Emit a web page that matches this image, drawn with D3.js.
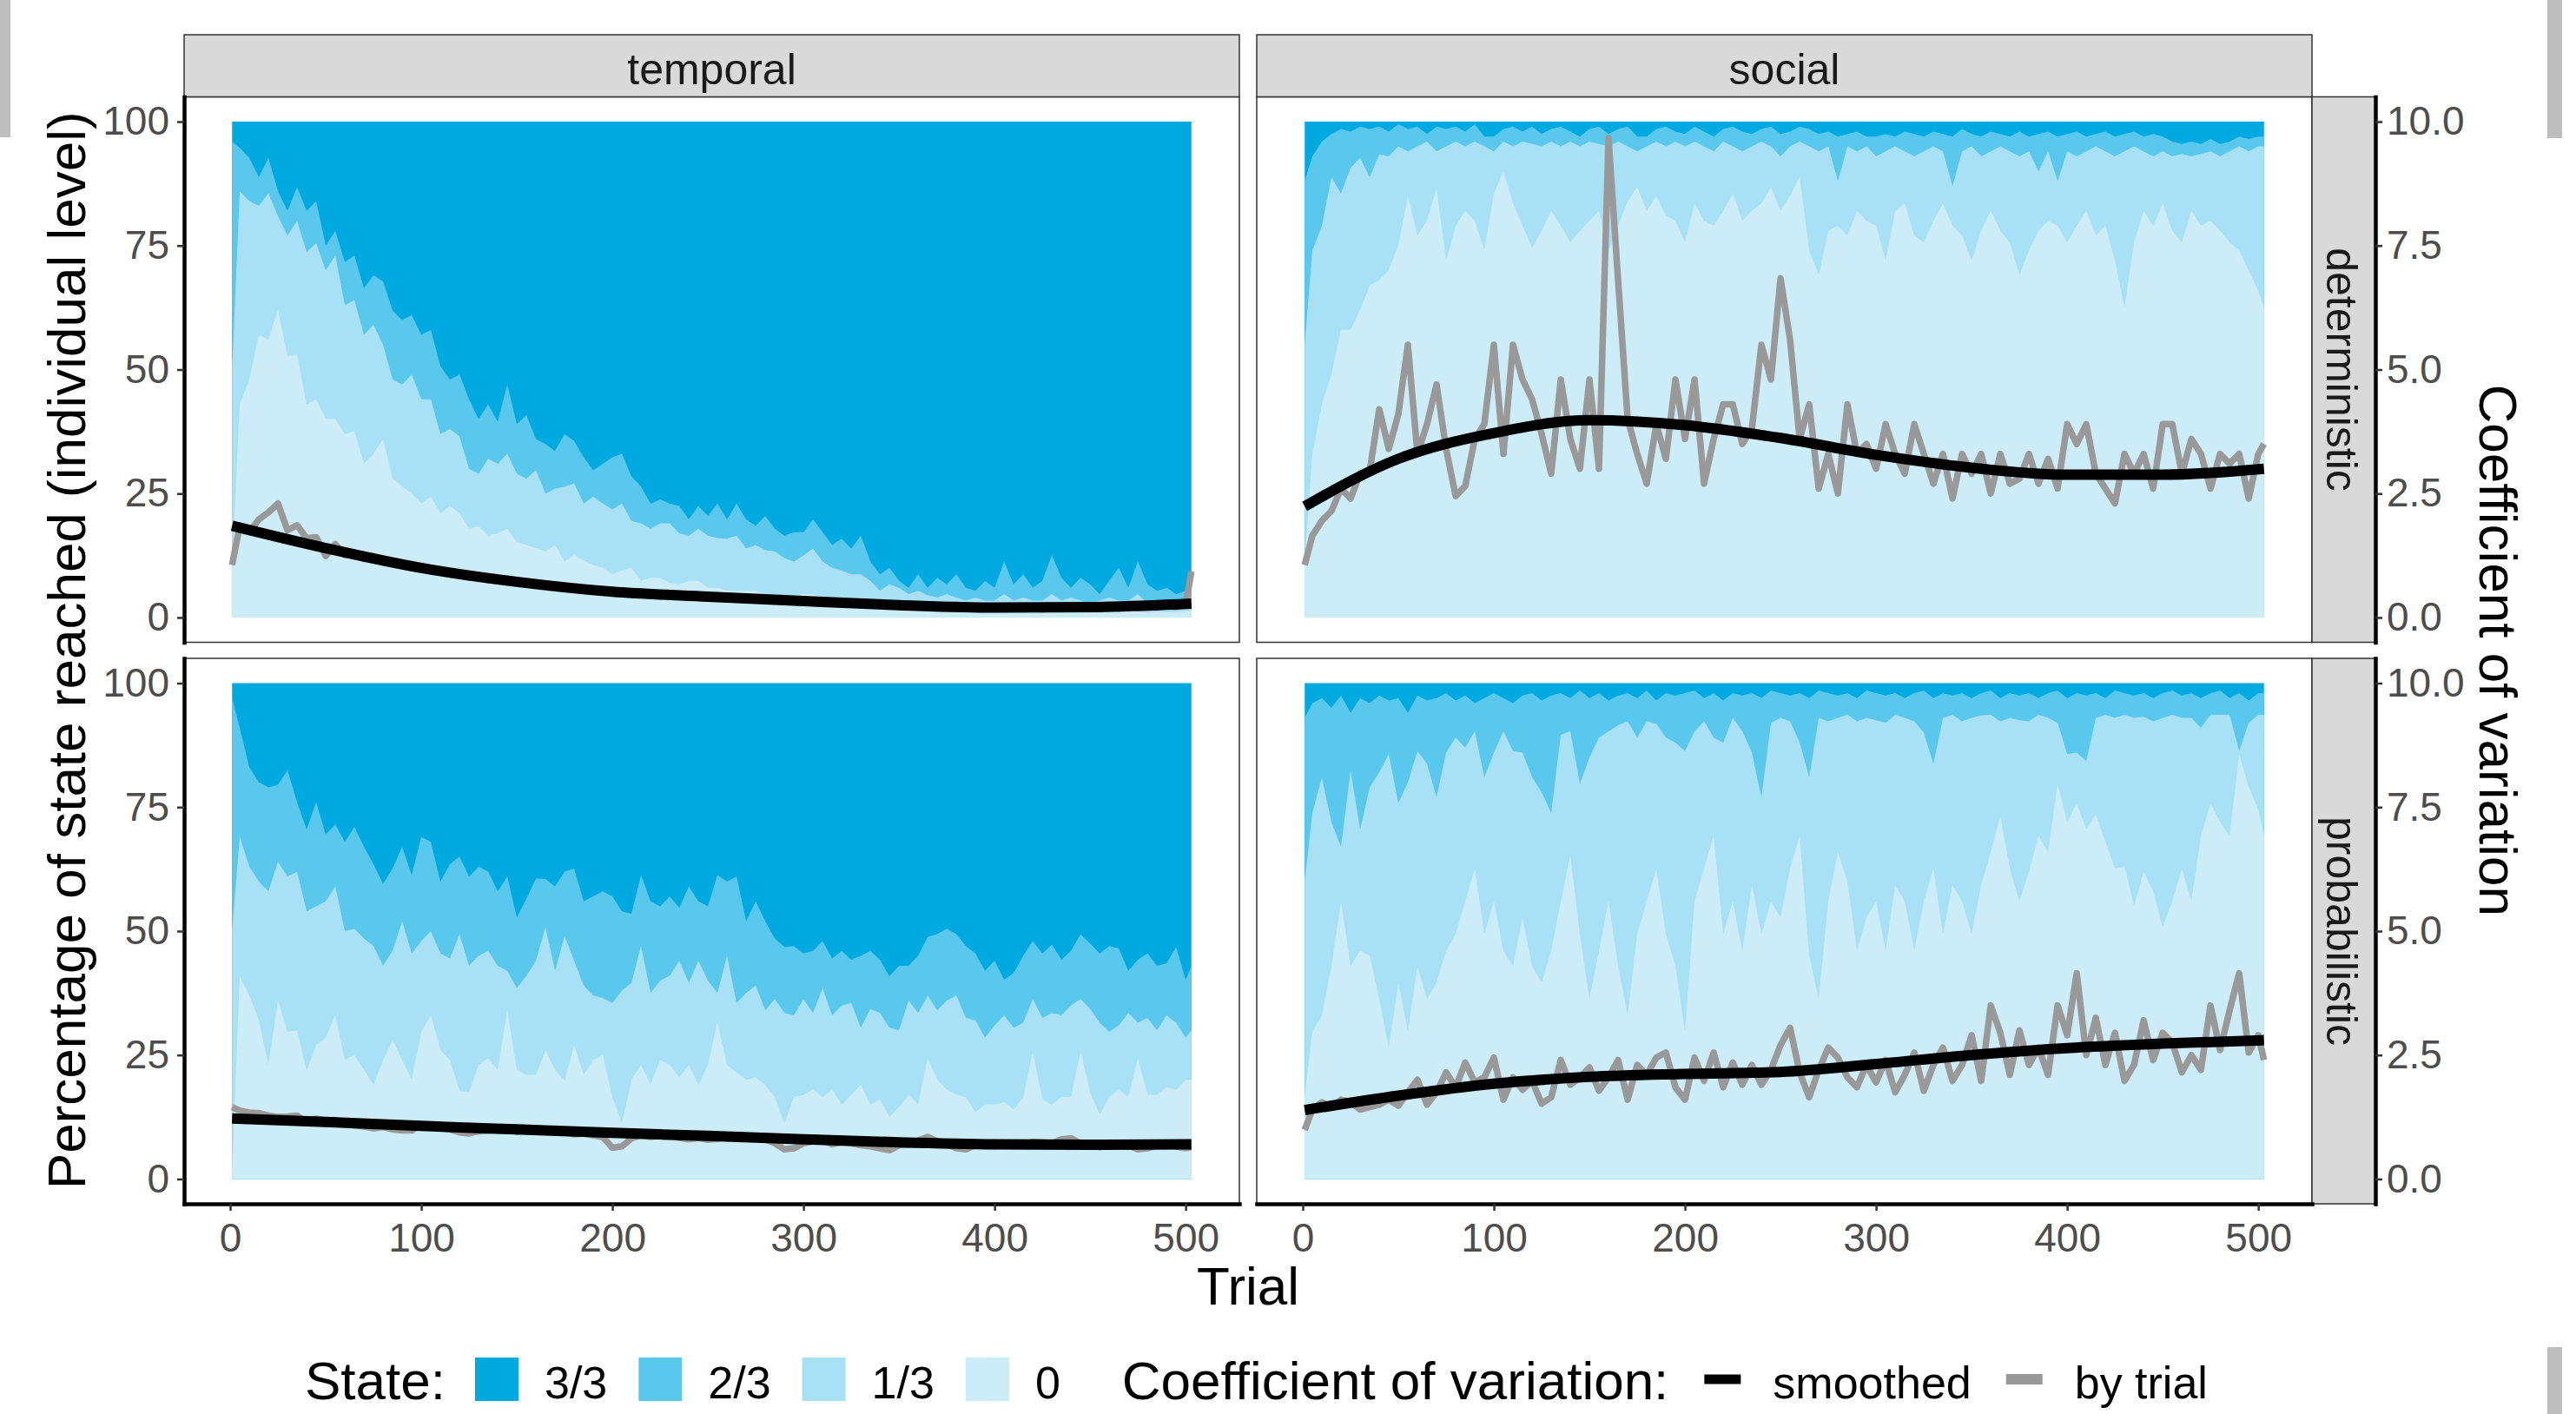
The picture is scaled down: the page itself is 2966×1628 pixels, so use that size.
<!DOCTYPE html>
<html>
<head>
<meta charset="utf-8">
<script src="https://cdn.jsdelivr.net/npm/d3@7"></script>
<style>
html,body{margin:0;padding:0;background:#fff;}
svg{display:block;}
text{font-family:"Liberation Sans", Arial, Helvetica, sans-serif;}
</style>
</head>
<body>
<svg id="chart" width="2966" height="1628"></svg>
<script>
// ---------- categories / ticks ----------
const columns = ["temporal", "social"];
const rows = ["deterministic", "probabilistic"];
const stateLabels = ["3/3", "2/3", "1/3", "0"];
const stateColors = ["#00A9E0", "#5AC7EC", "#A8E1F5", "#CCEDF8"];
const cvLabels = ["smoothed", "by trial"];
const yTicks = [0, 25, 50, 75, 100];
const cvTicks = [0, 2.5, 5, 7.5, 10];
const xTicks = [0, 100, 200, 300, 400, 500];

const trials = [1,5,10,15,20,25,30,35,40,45,
 50,55,60,65,70,75,80,85,90,95,
 100,105,110,115,120,125,130,135,140,145,
 150,155,160,165,170,175,180,185,190,195,
 200,205,210,215,220,225,230,235,240,245,
 250,255,260,265,270,275,280,285,290,295,
 300,305,310,315,320,325,330,335,340,345,
 350,355,360,365,370,375,380,385,390,395,
 400,405,410,415,420,425,430,435,440,445,
 450,455,460,465,470,475,480,485,490,495,
 500,503];
const smoothTrials = [1,50,100,150,200,250,300,350,400,450,503];

// ---------- temporal / deterministic ----------
// cumulative % of individuals at state <= 0, <= 1/3, <= 2/3
const tempDet_upTo0 = [10,43,48,57,56,62,52.7,53,43,44,
 40,40,37,37.6,31,33,36,28,26.4,25,
 23,24.4,21,22.5,21,17.9,18.4,16.5,17,17.9,
 15.2,14.6,14,13.3,14.6,11.3,12.6,11.5,10.6,10,
 8.7,9.5,10,7.4,8,8,7,6.7,7.4,7.4,
 6,6,5.4,5.4,5.4,5.4,4.7,4.7,4,4,
 4.7,4.7,3.4,3.4,2.8,2.8,2.1,2.1,1.8,1.5,
 1.8,1.4,1.6,1.2,1.5,1.1,1.4,1.2,1.0,1.3,
 1.1,1.5,1.2,1.0,1.3,1.1,1.4,1.0,1.2,1.1,
 0.9,1.2,1.0,1.3,1.1,1.4,0.9,1.2,1.0,1.1,
 1.2,1.5];
const tempDet_upTo1of3 = [50,86,84,83,85.5,81,77,80,73.7,75.5,
 70,73,63,64,57,59,55,48,47,49,
 44,44,37,38,36.5,30,29,32,31,33,
 29,28,29.7,25,26,26.4,27,23,24.4,23,
 21.8,23,19.5,19,17.9,19,19,17,16.5,17.9,
 16.5,16,15.9,16.5,13.9,14.6,13.6,13.3,12,11.3,
 12.5,13.9,11.3,10,9.5,8.7,8.7,7.4,5.4,6.7,
 6,4.7,5.4,4.5,4,4.7,4,3.4,4,3.4,
 3.4,4.7,3.4,4,3.4,3.4,4.7,3.4,4,3.4,
 2.8,3.4,4,3.4,3.4,4.7,2.8,3.4,2.8,3.4,
 3.4,4];
const tempDet_upTo2of3 = [96,94.7,92.7,88.8,92.7,86,82,86.8,82,84,
 75,78,71.7,73,66.4,69,67.8,61.9,60,61,
 57,58,50.7,48,49,44,40,43,39.5,47,
 39,40.8,36,35,33.6,37,35.6,32.3,29.7,31,
 32.3,33,28.4,26.4,23,23.8,23,22.5,19.8,22.5,
 20.5,23,19.8,23,19.8,18.5,20.5,17.9,16.5,17.2,
 17.2,19.8,17.2,14.6,15.9,13.9,16.5,11.3,8.7,10,
 7.4,6,8.7,6,8,6.7,8.7,6,5.4,7.4,
 6,11.3,6.7,8.7,6,7.4,12.6,8,6,8,
 6.7,4.7,7.4,10,6,11.3,6.7,5.4,6,4.7,
 5.4,6];
const tempDet_cv = [1.06,1.85,1.72,1.98,2.12,2.3,1.76,1.86,1.6,1.62,
 1.24,1.48,1.26,1.3,1.18,1.24,1.16,1.12,1.06,1.05,
 0.98,0.94,0.92,0.87,0.86,0.8,0.82,0.75,0.76,0.71,
 0.72,0.67,0.68,0.63,0.64,0.6,0.6,0.57,0.58,0.53,
 0.55,0.5,0.52,0.48,0.5,0.45,0.47,0.44,0.46,0.42,
 0.44,0.4,0.42,0.38,0.4,0.36,0.38,0.34,0.36,0.32,
 0.35,0.31,0.33,0.29,0.3,0.27,0.29,0.25,0.27,0.24,
 0.26,0.22,0.24,0.21,0.23,0.19,0.21,0.18,0.21,0.18,
 0.2,0.17,0.2,0.17,0.19,0.16,0.2,0.17,0.19,0.17,
 0.21,0.18,0.2,0.18,0.22,0.19,0.21,0.2,0.23,0.21,
 0.25,0.93];
const tempDet_cvSmooth = [1.85,1.40,1.0,0.72,0.52,0.42,0.33,0.25,0.20,0.21,0.28];

// ---------- social / deterministic ----------
const socDet_upTo0 = [11,33,43,49,58,58,62,67,68,70,
 75,85,77,80,86.5,72,79,82,80,74,
 85.5,90,83.5,79,74.5,78,82,79,75.6,78,
 80,82,74,79,84,86.8,82,85,81,80,
 75.6,83.5,80,79,82,85.5,80,82,83.5,86.8,
 82,85,88.8,74,69,78,79,77,82,80,
 79,72,82,83.5,77,75.6,80,83.5,79,77,
 72,78,82,78,75.6,69,74,78,80,79,
 75.6,79,82,77,79,72,62.5,75.6,82,79,
 83.5,78,75.6,82,79,80,78,75.6,74,70,
 65.8,62.5];
const socDet_upTo1of3 = [55,74,79,88.8,85.5,90.7,92.7,88.8,93.4,93,
 95,94,95,96,94,95,96,95,96,95,
 94,96,95,96,95.5,95,96,95,96,95,
 96,95.5,95,96,95,94,95,96,95,96,
 95,96,95,94,96,95,94,95,96,95,
 93,95,96,95,94,95,88,95,94,95,
 93,94,95,94,93,94,95,94,87,94,
 95,93,94,95,94,93,94,90,94,88,
 94,93,94,95,94,93,94,95,94,93,
 94,93,93.5,93,93.5,94,93,94,95,94,
 95,95];
const socDet_upTo2of3 = [88,93,96,97.5,98.5,98,99,98.5,99,98,
 99.5,98.5,99,97.5,99,98.5,99,98,99.5,97,
 97,98.5,99,98,99,97.5,98.5,99,98,97,
 98.5,99,97.5,98.5,99,97,97,98.5,99,98,
 97.5,99,98,97,98.5,99,98,97.5,98.5,99,
 97.5,98,99,98.5,97.5,98,97,97.5,98,97,
 97,97.5,97,98,97.5,97,98,97.5,97,98.5,
 97.5,97,98,97.5,97,98,97,97.5,98,97,
 97.5,98,97,97.5,98,97,97.5,98,97,97.5,
 97,96,95.5,96,95.5,96.5,95.5,96,97,96.5,
 97,97];
const socDet_cv = [1.06,1.65,1.95,2.15,2.6,2.4,2.9,2.95,4.2,3.4,
 4.1,5.5,3.3,3.9,4.7,3.4,2.45,2.65,3.6,3.9,
 5.5,3.3,5.5,4.8,4.4,3.7,2.9,4.8,3.6,3.0,
 4.8,3.0,9.67,6.8,4.0,3.3,2.7,3.9,3.2,4.8,
 3.6,4.8,2.7,3.6,4.3,4.3,3.5,3.8,5.5,4.8,
 6.84,5.6,3.6,4.3,2.6,3.3,2.5,4.3,3.3,3.5,
 3.0,3.9,3.3,2.9,3.9,3.3,2.7,3.3,2.4,3.3,
 2.9,3.3,2.5,3.3,2.7,2.8,3.3,2.7,3.2,2.6,
 3.9,3.5,3.9,2.9,2.6,2.3,3.3,2.9,3.3,2.6,
 3.9,3.9,2.9,3.6,3.3,2.6,3.3,3.1,3.3,2.4,
 3.3,3.5];
const socDet_cvSmooth = [2.24,3.2,3.72,3.98,3.88,3.62,3.28,3.02,2.88,2.88,3.0];

// ---------- temporal / probabilistic ----------
const tempProb_upTo0 = [2,41,37,32,23,36,29.7,30,21.8,27,
 28.4,33,24,25,22,19,24,28,24,20,
 29.7,33,26,24,17.8,17.5,23,24.4,22,34,
 22,21,21,26,22,19.8,27,21,24,25,
 16.5,11.2,20,23,19,24,23,20.5,23,19,
 23,31.7,23,21.5,20,20.5,19,16.5,11.2,16.5,
 17,18,16.5,18,15,17,19,15,16,12.5,
 14.5,17,15,24.4,20,18,17,16.5,13.5,15,
 15,15.5,14,16.5,25.7,16,15,16.5,16.5,25.7,
 17.5,13,16.5,18,16.5,24.4,17,17,18.5,18,
 20,20];
const tempProb_upTo1of3 = [50,69,63,60,58,64,61,62,54,55,
 56,59,50,50.5,48.5,47,43,46,52,45.5,
 48,50,45.5,44.5,49.4,43,45,46,43,42,
 38.5,41,44,50.8,42,49,44,39,37,36.5,
 35.5,38,39.6,47,37.5,40,41,44,39.6,44,
 40,37.5,45,35.5,37.5,39,34,36.3,33.5,33,
 36.3,33.5,38.5,33,35,35.5,30.5,34.3,33.5,30.5,
 30,36,33.5,37,34,36,37,32.5,32,28.5,
 31,33,30.5,31.5,36.3,32.5,33.5,33,35,36.3,
 34.3,31.5,29.7,31,33.5,31.5,32.5,30,33,31.5,
 28.5,30];
const tempProb_upTo2of3 = [97,91,83,80,79,79.5,82.4,76,70.5,76,
 69.5,71.5,68,71,67,63.5,59.5,62.6,67,61.3,
 69,68,60,63.5,65,61,63,62,58,61,
 52.7,56.5,60.6,60.5,59,62,62.6,56,57,58,
 57,54,53.5,61.3,56,55,57,54.7,59,56,
 55,61.3,60,61,52,56,52,48.5,46.8,47,
 45.5,46,48,44.5,46,44.2,45,46,44.2,40.9,
 43,43,45,48.8,49.4,50.5,49.4,47,45.5,42,
 44,40.2,41.5,45,48,45.5,47.3,44.2,46,49.4,
 47.5,45.5,47,46.5,42,44.2,45.5,43,43.5,46.8,
 40.2,43];
const tempProb_cv = [1.45,1.38,1.34,1.33,1.28,1.25,1.26,1.28,1.15,1.22,
 1.18,1.19,1.11,1.08,1.06,1.02,1.05,1.0,0.98,0.98,
 1.1,1.1,1.03,1.0,0.94,0.92,0.96,0.98,1.02,1.02,
 0.95,0.98,0.99,1.0,1.0,0.95,0.9,0.92,0.88,0.85,
 0.63,0.66,0.82,0.88,0.85,0.87,0.88,0.83,0.8,0.83,
 0.79,0.81,0.85,0.88,0.83,0.85,0.8,0.72,0.6,0.62,
 0.72,0.76,0.78,0.7,0.74,0.72,0.68,0.66,0.62,0.58,
 0.68,0.7,0.78,0.85,0.76,0.7,0.62,0.6,0.68,0.72,
 0.66,0.7,0.72,0.68,0.75,0.74,0.72,0.8,0.82,0.72,
 0.68,0.64,0.7,0.72,0.68,0.6,0.62,0.68,0.72,0.66,
 0.62,0.64];
const tempProb_cvSmooth = [1.22,1.15,1.07,1.0,0.93,0.87,0.8,0.74,0.70,0.69,0.70];

// ---------- social / probabilistic ----------
const socProb_upTo0 = [16.5,29.7,33,42.9,56,42.9,46,45,36.3,26.4,
 39.6,29.7,42.9,36.3,39.6,46,49.4,56,62.6,49.4,
 56,46,42.9,52.7,42.9,39.6,46,56,65.3,49.4,
 36.3,46,56,42.9,33,49.4,56,62.6,49.4,42.9,
 29.7,56,62.6,69.2,49.4,56,46,59.3,49.4,56,
 52.7,62.6,69.2,45,36.3,56,65.9,60,46,52.7,
 56,46,59.3,56,46,56,62.6,49.4,59.3,56,
 49.4,59.3,65.9,73.2,62.6,56,62,69.2,65.9,79.7,
 72,75.8,70.5,73.5,68,62.6,63,55,62,58,
 50.8,56,62.6,56,69.2,75.8,72,69.2,85.7,79,
 74.5,69.2];
const socProb_upTo1of3 = [60,73.8,81,72,67,82.4,70.5,79,82,85.7,
 75.8,80,86.3,83.7,77,86,89,87,90.3,81,
 86,90.3,86.3,86,81,78,73.8,89.6,90.3,79.7,
 85,89,90.3,91.5,92.3,89,92.3,91.8,89,88,
 86.3,90.3,92.3,89,88,93,90.3,86,77,92,
 93,92.3,88,81,93,92.3,93,93.6,92.3,93,
 92.5,92,93.6,93,92.3,90,83.7,93,93.6,92.3,
 93,93.5,93.6,92.3,93,92.5,92.3,93.6,93,92,
 85.7,86,84.3,93,93.6,93,93.6,93,93.2,92.3,
 93,93.6,93,93,91,93.6,93.6,93.6,86.3,92,
 93.6,93.6];
const socProb_upTo2of3 = [93,96,97,95,97.5,94,97,96,97.5,96.5,
 97,94,97.5,96.5,97,98,96.5,97.5,96,97,
 98,97,96,97.5,98,96.5,97.5,98,97,98.5,
 97,98,96.5,97.5,98,97,98.5,96.5,98,97.5,
 98,98.5,97,98,96.5,98,97.5,98,97,98.5,
 98,97.5,98,97,98.5,98,97.5,98,97,98.5,
 98,97.5,98,97,98,98.5,97,98,97.5,98,
 97,98,98.5,97,98,97.5,98,97,98,98.5,
 97,98,97.5,98,97,98.5,98,97.5,98,97,
 98,98.5,97.5,98,97,98,98.5,97,98,96.5,
 98,98];
const socProb_cv = [0.99,1.4,1.55,1.45,1.6,1.55,1.4,1.45,1.5,1.6,
 1.48,1.75,2.0,1.5,1.75,2.15,1.85,2.35,1.95,2.05,
 2.45,1.6,2.05,1.8,1.98,1.52,1.65,2.4,1.9,2.05,
 2.25,1.78,2.05,2.4,1.6,2.3,2.1,2.45,2.55,1.85,
 1.6,2.45,1.98,2.55,1.85,2.35,1.9,2.3,1.9,2.2,
 2.7,3.05,2.15,1.65,2.2,2.65,2.45,2.05,1.85,2.3,
 1.95,2.4,1.75,2.1,2.55,1.78,2.3,2.65,1.98,2.3,
 2.9,1.98,3.5,2.95,2.1,3.0,2.3,2.65,2.1,3.5,
 2.9,4.15,2.5,3.25,2.3,2.95,1.98,2.3,3.2,2.4,
 2.95,2.75,2.15,2.5,2.2,3.5,2.6,3.4,4.15,2.55,
 2.9,2.4];
const socProb_cvSmooth = [1.39,1.68,1.92,2.06,2.12,2.16,2.32,2.5,2.64,2.73,2.8];

const panels = [
  {col:0, row:0, upTo0:tempDet_upTo0, upTo1:tempDet_upTo1of3, upTo2:tempDet_upTo2of3, cv:tempDet_cv, smooth:tempDet_cvSmooth},
  {col:1, row:0, upTo0:socDet_upTo0, upTo1:socDet_upTo1of3, upTo2:socDet_upTo2of3, cv:socDet_cv, smooth:socDet_cvSmooth},
  {col:0, row:1, upTo0:tempProb_upTo0, upTo1:tempProb_upTo1of3, upTo2:tempProb_upTo2of3, cv:tempProb_cv, smooth:tempProb_cvSmooth},
  {col:1, row:1, upTo0:socProb_upTo0, upTo1:socProb_upTo1of3, upTo2:socProb_upTo2of3, cv:socProb_cv, smooth:socProb_cvSmooth}
];

// ---------- layout ----------
const W = 2966, H = 1628;
const FONT = '"Liberation Sans", Arial, Helvetica, sans-serif';
const panelW = 1215, panelH = 628;
const colX = [212, 1447];
const rowY = [111.5, 758];
const stripTop = 40, stripH = 71.5;
const rStripX = 2662, rStripW = 73;
const rAxisX = rStripX + rStripW;
const xMin = 1, xMax = 503, xPad = (xMax - xMin) * 0.05;

const svg = d3.select("#chart");
svg.append("rect").attr("width", W).attr("height", H).attr("fill", "#fff");

// screenshot edge artefacts
svg.append("rect").attr("x", 0).attr("y", 0).attr("width", 12).attr("height", 158).attr("fill", "#BEBEBE");
svg.append("rect").attr("x", 2933).attr("y", 0).attr("width", 17).attr("height", 159).attr("fill", "#BEBEBE");
svg.append("rect").attr("x", 2933).attr("y", 1551).attr("width", 17).attr("height", 77).attr("fill", "#BEBEBE");

function styleAxis(g) {
  g.attr("font-family", FONT).attr("font-size", 46);
  g.select(".domain").attr("stroke", "#000").attr("stroke-width", 4.5).attr("stroke-linecap", "square");
  g.selectAll(".tick line").attr("stroke", "#333").attr("stroke-width", 2.5);
  g.selectAll(".tick text").attr("fill", "#4D4D4D");
}

panels.forEach(p => {
  const x0 = colX[p.col], y0 = rowY[p.row];
  const x = d3.scaleLinear().domain([xMin - xPad, xMax + xPad]).range([x0, x0 + panelW]);
  const y = d3.scaleLinear().domain([-5, 105]).range([y0 + panelH, y0]);
  const cvY = d3.scaleLinear().domain([-0.5, 10.5]).range([y0 + panelH, y0]);
  const g = svg.append("g");

  const data = trials.map((t, i) => ({t, b0: p.upTo0[i], b1: p.upTo1[i], b2: p.upTo2[i], cv: p.cv[i]}));
  // overlapping layers from the top state downward (no seams)
  const layers = [
    {hi: d => 100, color: stateColors[0]},
    {hi: d => d.b2, color: stateColors[1]},
    {hi: d => d.b1, color: stateColors[2]},
    {hi: d => d.b0, color: stateColors[3]}
  ];
  layers.forEach(L => {
    g.append("path").datum(data)
      .attr("fill", L.color)
      .attr("d", d3.area().x(d => x(d.t)).y0(y(0)).y1(d => y(L.hi(d))));
  });

  // by-trial CV
  g.append("path").datum(data)
    .attr("fill", "none").attr("stroke", "#999999").attr("stroke-width", 7.5)
    .attr("stroke-linejoin", "round")
    .attr("d", d3.line().x(d => x(d.t)).y(d => cvY(d.cv)));

  // smoothed CV
  const sm = smoothTrials.map((t, i) => ({t, v: p.smooth[i]}));
  g.append("path").datum(sm)
    .attr("fill", "none").attr("stroke", "#000").attr("stroke-width", 12)
    .attr("d", d3.line().curve(d3.curveMonotoneX).x(d => x(d.t)).y(d => cvY(d.v)));

  // panel border
  svg.append("rect").attr("x", x0).attr("y", y0).attr("width", panelW).attr("height", panelH)
    .attr("fill", "none").attr("stroke", "#333").attr("stroke-width", 1.5);

  // top strip
  if (p.row === 0) {
    svg.append("rect").attr("x", x0).attr("y", stripTop).attr("width", panelW).attr("height", stripH)
      .attr("fill", "#D9D9D9").attr("stroke", "#333").attr("stroke-width", 1.5);
    svg.append("text").attr("x", x0 + panelW / 2).attr("y", stripTop + 57)
      .attr("text-anchor", "middle").attr("font-size", 50).attr("fill", "#1A1A1A")
      .text(columns[p.col]);
  }
  // right strip + secondary axis
  if (p.col === 1) {
    svg.append("rect").attr("x", rStripX).attr("y", y0).attr("width", rStripW).attr("height", panelH)
      .attr("fill", "#D9D9D9").attr("stroke", "#333").attr("stroke-width", 1.5);
    const cy = y0 + panelH / 2;
    svg.append("text").attr("transform", `translate(${rStripX + 17},${cy}) rotate(90)`)
      .attr("text-anchor", "middle").attr("font-size", 50).attr("fill", "#1A1A1A")
      .text(rows[p.row]);
    const ra = svg.append("g").attr("transform", `translate(${rAxisX},0)`)
      .call(d3.axisRight(cvY).tickValues(cvTicks).tickFormat(d3.format(".1f"))
        .tickSize(8).tickPadding(5).tickSizeOuter(0));
    styleAxis(ra);
  }
  // left axis
  if (p.col === 0) {
    const la = svg.append("g").attr("transform", `translate(${x0},0)`)
      .call(d3.axisLeft(y).tickValues(yTicks).tickSize(8).tickPadding(9).tickSizeOuter(0));
    styleAxis(la);
  }
  // bottom axis
  if (p.row === 1) {
    const ba = svg.append("g").attr("transform", `translate(0,${y0 + panelH})`)
      .call(d3.axisBottom(x).tickValues(xTicks).tickSize(8).tickPadding(14).tickSizeOuter(0));
    styleAxis(ba);
  }
});

// axis titles
const midY = (rowY[0] + rowY[1] + panelH) / 2;
svg.append("text").attr("transform", `translate(98,${midY}) rotate(-90)`)
  .attr("text-anchor", "middle").attr("font-size", 62).attr("fill", "#000")
  .text("Percentage of state reached (individual level)");
svg.append("text").attr("transform", `translate(2855,${midY}) rotate(90)`)
  .attr("text-anchor", "middle").attr("font-size", 62).attr("fill", "#000")
  .text("Coefficient of variation");
svg.append("text").attr("x", (colX[0] + colX[1] + panelW) / 2).attr("y", 1502)
  .attr("text-anchor", "middle").attr("font-size", 62).attr("fill", "#000")
  .text("Trial");

// legend
const leg = svg.append("g").attr("font-family", FONT);
let lx = 351;
const keyTop = 1563, keyMid = 1588;
let tt = leg.append("text").attr("x", lx).attr("y", 1611).attr("font-size", 62).text("State:");
lx += tt.node().getComputedTextLength() + 34;
stateLabels.forEach((lab, i) => {
  leg.append("rect").attr("x", lx).attr("y", keyTop).attr("width", 50).attr("height", 50).attr("fill", stateColors[i]);
  lx += 50 + 30;
  const t = leg.append("text").attr("x", lx).attr("y", 1610).attr("font-size", 52).text(lab);
  lx += t.node().getComputedTextLength() + 36;
});
lx += 35;
tt = leg.append("text").attr("x", lx).attr("y", 1611).attr("font-size", 62).text("Coefficient of variation:");
lx += tt.node().getComputedTextLength() + 37;
const lineKeys = [{lab: cvLabels[0], color: "#000", w: 11}, {lab: cvLabels[1], color: "#999999", w: 12}];
lineKeys.forEach(k => {
  leg.append("line").attr("x1", lx + 4).attr("x2", lx + 46).attr("y1", keyMid).attr("y2", keyMid)
    .attr("stroke", k.color).attr("stroke-width", k.w);
  lx += 50 + 33;
  const t = leg.append("text").attr("x", lx).attr("y", 1610).attr("font-size", 52).text(k.lab);
  lx += t.node().getComputedTextLength() + 36;
});
</script>
</body>
</html>
